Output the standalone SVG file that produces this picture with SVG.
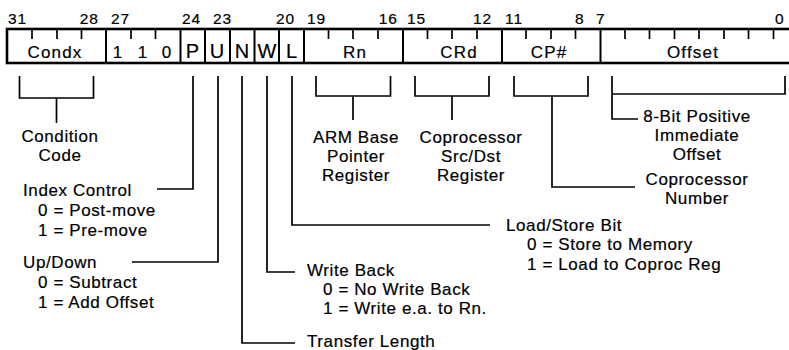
<svg xmlns="http://www.w3.org/2000/svg" width="789" height="350" viewBox="0 0 789 350">
<style>
text{font-family:"Liberation Sans",Arial,sans-serif;fill:#000;stroke:#000;stroke-width:0.2}
.bn{font-size:15.5px;letter-spacing:1px}
.fl{font-size:17px;letter-spacing:1.2px;text-anchor:middle}
.fb{font-size:20px;text-anchor:middle}
.lb{font-size:17px;letter-spacing:0.6px}
.c{text-anchor:middle}
.ln{stroke:#000;stroke-width:1.7;fill:none}
.bx{stroke:#000;stroke-width:2.6;fill:none}
.dv{stroke:#000;stroke-width:2}
.tk{stroke:#000;stroke-width:1.7}
</style>
<rect width="789" height="350" fill="#fff"/>
<g id="bitnumbers">
<text class="bn" x="8" y="24">31</text>
<text class="bn" x="99" y="24" text-anchor="end">28</text>
<text class="bn" x="111" y="24">27</text>
<text class="bn" x="182" y="24">24</text>
<text class="bn" x="213" y="24">23</text>
<text class="bn" x="276" y="24">20</text>
<text class="bn" x="307" y="24">19</text>
<text class="bn" x="398" y="24" text-anchor="end">16</text>
<text class="bn" x="407" y="24">15</text>
<text class="bn" x="473" y="24">12</text>
<text class="bn" x="505" y="24">11</text>
<text class="bn" x="575" y="24">8</text>
<text class="bn" x="596" y="24">7</text>
<text class="bn" x="775" y="24">0</text>
</g>
<g id="register">
<rect class="bx" x="7" y="29" width="800" height="34"/>
<g class="dv">
<line x1="106" y1="29" x2="106" y2="63"/>
<line x1="180.5" y1="29" x2="180.5" y2="63"/>
<line x1="205" y1="29" x2="205" y2="63"/>
<line x1="230" y1="29" x2="230" y2="63"/>
<line x1="254.5" y1="29" x2="254.5" y2="63"/>
<line x1="279" y1="29" x2="279" y2="63"/>
<line x1="304" y1="29" x2="304" y2="63"/>
<line x1="403" y1="29" x2="403" y2="63"/>
<line x1="502" y1="29" x2="502" y2="63"/>
<line x1="600.5" y1="29" x2="600.5" y2="63"/>
</g>
<g class="tk">
<line x1="32" y1="29" x2="32" y2="39"/>
<line x1="57" y1="29" x2="57" y2="39"/>
<line x1="81.5" y1="29" x2="81.5" y2="39"/>
<line x1="131" y1="29" x2="131" y2="39"/>
<line x1="155.5" y1="29" x2="155.5" y2="39"/>
<line x1="328.5" y1="29" x2="328.5" y2="39"/>
<line x1="353" y1="29" x2="353" y2="39"/>
<line x1="378" y1="29" x2="378" y2="39"/>
<line x1="427.5" y1="29" x2="427.5" y2="39"/>
<line x1="452" y1="29" x2="452" y2="39"/>
<line x1="477" y1="29" x2="477" y2="39"/>
<line x1="526" y1="29" x2="526" y2="39"/>
<line x1="551" y1="29" x2="551" y2="39"/>
<line x1="575.5" y1="29" x2="575.5" y2="39"/>
<line x1="625" y1="29" x2="625" y2="39"/>
<line x1="649.5" y1="29" x2="649.5" y2="39"/>
<line x1="674.5" y1="29" x2="674.5" y2="39"/>
<line x1="699" y1="29" x2="699" y2="39"/>
<line x1="724" y1="29" x2="724" y2="39"/>
<line x1="748.5" y1="29" x2="748.5" y2="39"/>
<line x1="773.5" y1="29" x2="773.5" y2="39"/>
</g>
<text class="fl" x="55" y="58">Condx</text>
<text class="fl" x="118" y="58">1</text>
<text class="fl" x="143" y="58">1</text>
<text class="fl" x="167" y="58">0</text>
<text class="fb" x="192.5" y="58">P</text>
<text class="fb" x="217" y="58">U</text>
<text class="fb" x="242" y="58">N</text>
<text class="fb" x="267" y="58">W</text>
<text class="fb" x="291.5" y="58">L</text>
<text class="fl" x="355" y="58">Rn</text>
<text class="fl" x="459" y="58">CRd</text>
<text class="fl" x="549" y="58">CP#</text>
<text class="fl" x="693" y="58">Offset</text>
</g>
<g id="connectors" class="ln">
<polyline points="19.5,76 19.5,98 93.5,98 93.5,76"/>
<line x1="56.5" y1="98" x2="56.5" y2="123"/>
<polyline points="157,189 193,189 193,76"/>
<polyline points="132,262 218,262 218,76"/>
<polyline points="242,76 242,343 295,343"/>
<polyline points="267,76 267,272 295,272"/>
<polyline points="292,76 292,225 490,225"/>
<polyline points="316,76 316,96 390.5,96 390.5,76"/>
<line x1="353" y1="96" x2="353" y2="120"/>
<polyline points="415,76 415,96 489,96 489,76"/>
<line x1="452" y1="96" x2="452" y2="120"/>
<polyline points="514,76 514,96 588,96 588,76"/>
<polyline points="552,96 552,187 635,187"/>
<polyline points="612,76 612,119 638,119"/>
<polyline points="612,94 785,94 785,76"/>
</g>
<g id="label-cond">
<text class="lb c" x="60" y="142">Condition</text>
<text class="lb c" x="60" y="161">Code</text>
</g>
<g id="label-index">
<text class="lb" x="23" y="196">Index Control</text>
<text class="lb" x="38" y="216">0 = Post-move</text>
<text class="lb" x="38" y="236">1 = Pre-move</text>
</g>
<g id="label-updown">
<text class="lb" x="23" y="268">Up/Down</text>
<text class="lb" x="38" y="288">0 = Subtract</text>
<text class="lb" x="38" y="308">1 = Add Offset</text>
</g>
<g id="label-rn">
<text class="lb c" x="356" y="143">ARM Base</text>
<text class="lb c" x="356" y="162">Pointer</text>
<text class="lb c" x="356" y="181">Register</text>
</g>
<g id="label-crd">
<text class="lb c" x="471" y="143">Coprocessor</text>
<text class="lb c" x="471" y="162">Src/Dst</text>
<text class="lb c" x="471" y="181">Register</text>
</g>
<g id="label-offset">
<text class="lb c" x="697" y="122">8-Bit Positive</text>
<text class="lb c" x="697" y="141">Immediate</text>
<text class="lb c" x="697" y="160">Offset</text>
</g>
<g id="label-cp">
<text class="lb c" x="697" y="185">Coprocessor</text>
<text class="lb c" x="697" y="204">Number</text>
</g>
<g id="label-ls">
<text class="lb" x="506" y="231">Load/Store Bit</text>
<text class="lb" x="527" y="250">0 = Store to Memory</text>
<text class="lb" x="527" y="270">1 = Load to Coproc Reg</text>
</g>
<g id="label-wb">
<text class="lb" x="307" y="276">Write Back</text>
<text class="lb" x="323" y="295">0 = No Write Back</text>
<text class="lb" x="323" y="314">1 = Write e.a. to Rn.</text>
</g>
<g id="label-tl">
<text class="lb" x="307" y="347">Transfer Length</text>
</g>
</svg>
